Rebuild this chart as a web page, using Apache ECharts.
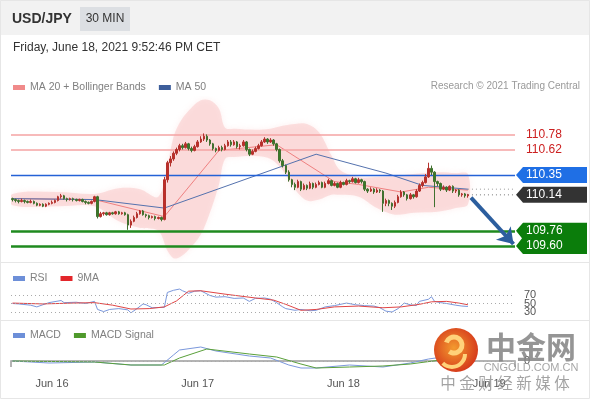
<!DOCTYPE html>
<html><head><meta charset="utf-8">
<script src="https://cdn.jsdelivr.net/npm/echarts/dist/echarts.min.js"></script>
<style>html,body{margin:0;padding:0;background:#fff}#c{width:590px;height:400px}</style>
</head><body><div id="c"></div>
<script>
// ---------- DATA ----------
const xTickIdx = [13, 61, 109, 157];
const xTickLabels = ['Jun 16', 'Jun 17', 'Jun 18', 'Jun 19'];
const slotCount = 166; // 30-min slots on the axis (candles + empty space to the right)

// candles: [open, close, low, high]
const ohlc = [
[110.10,110.09,110.07,110.11],[110.09,110.08,110.06,110.10],[110.08,110.07,110.05,110.09],[110.07,110.08,110.06,110.10],
[110.08,110.07,110.05,110.09],[110.07,110.06,110.05,110.08],[110.06,110.07,110.05,110.09],[110.07,110.05,110.04,110.08],
[110.05,110.03,110.02,110.06],[110.03,110.04,110.02,110.05],[110.04,110.02,110.01,110.05],[110.02,110.04,110.01,110.05],
[110.04,110.05,110.03,110.06],[110.05,110.06,110.04,110.08],[110.06,110.08,110.05,110.09],[110.08,110.12,110.07,110.13],
[110.12,110.13,110.10,110.15],[110.13,110.10,110.09,110.14],[110.10,110.09,110.07,110.11],[110.09,110.10,110.08,110.11],
[110.10,110.09,110.07,110.11],[110.09,110.08,110.07,110.10],[110.08,110.09,110.07,110.10],[110.09,110.07,110.06,110.10],
[110.07,110.06,110.04,110.08],[110.06,110.05,110.04,110.07],[110.05,110.07,110.04,110.08],[110.07,110.12,110.06,110.13],
[110.12,109.91,109.89,110.13],[109.91,109.94,109.90,109.96],[109.94,109.95,109.92,109.96],[109.95,109.93,109.92,109.96],
[109.93,109.95,109.92,109.96],[109.95,109.94,109.93,109.96],[109.94,109.96,109.93,109.97],[109.96,109.94,109.93,109.97],
[109.94,109.95,109.93,109.96],[109.95,109.93,109.92,109.96],[109.93,109.82,109.77,109.94],[109.82,109.86,109.79,109.88],
[109.86,109.90,109.85,109.92],[109.90,109.94,109.89,109.96],[109.94,109.97,109.93,109.98],[109.97,109.93,109.92,109.98],
[109.93,109.92,109.90,109.94],[109.92,109.90,109.88,109.93],[109.90,109.91,109.89,109.92],[109.91,109.89,109.87,109.92],
[109.89,109.90,109.88,109.91],[109.90,109.88,109.86,109.91],[109.88,110.30,109.87,110.33],[110.30,110.48,110.27,110.50],
[110.48,110.52,110.44,110.55],[110.52,110.58,110.50,110.60],[110.58,110.62,110.56,110.64],[110.62,110.66,110.60,110.68],
[110.66,110.64,110.62,110.68],[110.64,110.68,110.63,110.70],[110.68,110.63,110.61,110.69],[110.63,110.61,110.59,110.65],
[110.61,110.65,110.60,110.67],[110.65,110.70,110.64,110.72],[110.70,110.73,110.69,110.76],[110.73,110.76,110.71,110.79],
[110.76,110.72,110.70,110.78],[110.72,110.68,110.66,110.73],[110.68,110.63,110.61,110.69],[110.63,110.61,110.59,110.64],
[110.61,110.64,110.60,110.66],[110.64,110.62,110.60,110.66],[110.62,110.66,110.61,110.68],[110.66,110.70,110.65,110.72],
[110.70,110.67,110.65,110.72],[110.67,110.70,110.66,110.72],[110.70,110.65,110.63,110.71],[110.65,110.66,110.62,110.68],
[110.66,110.70,110.65,110.72],[110.70,110.62,110.60,110.71],[110.62,110.57,110.55,110.63],[110.57,110.60,110.56,110.62],
[110.60,110.63,110.59,110.65],[110.63,110.66,110.62,110.68],[110.66,110.70,110.65,110.72],[110.70,110.73,110.69,110.75],
[110.73,110.70,110.68,110.74],[110.70,110.72,110.69,110.74],[110.72,110.68,110.66,110.73],[110.68,110.62,110.60,110.69],
[110.62,110.50,110.48,110.63],[110.50,110.45,110.43,110.52],[110.45,110.38,110.36,110.46],[110.38,110.30,110.28,110.40],
[110.30,110.25,110.22,110.31],[110.25,110.22,110.19,110.27],[110.22,110.28,110.21,110.30],[110.28,110.20,110.18,110.29],
[110.20,110.24,110.19,110.26],[110.24,110.21,110.19,110.25],[110.21,110.26,110.20,110.28],[110.26,110.22,110.20,110.27],
[110.22,110.25,110.21,110.27],[110.25,110.27,110.24,110.29],[110.27,110.22,110.21,110.28],[110.22,110.26,110.21,110.28],
[110.26,110.29,110.25,110.31],[110.29,110.24,110.23,110.30],[110.24,110.26,110.23,110.28],[110.26,110.22,110.21,110.27],
[110.22,110.27,110.21,110.29],[110.27,110.25,110.24,110.28],[110.25,110.29,110.24,110.31],[110.29,110.28,110.26,110.30],
[110.28,110.31,110.27,110.33],[110.31,110.27,110.26,110.32],[110.27,110.30,110.26,110.32],[110.30,110.28,110.26,110.31],
[110.28,110.20,110.18,110.29],[110.20,110.18,110.16,110.21],[110.18,110.20,110.17,110.22],[110.20,110.17,110.15,110.21],
[110.17,110.19,110.16,110.21],[110.19,110.18,110.16,110.20],[110.18,110.05,109.96,110.19],[110.05,110.08,110.02,110.10],
[110.08,110.05,110.02,110.09],[110.05,110.02,109.98,110.06],[110.02,110.06,110.00,110.08],[110.06,110.12,110.05,110.14],
[110.12,110.17,110.11,110.19],[110.17,110.14,110.12,110.18],[110.14,110.10,110.08,110.15],[110.10,110.14,110.09,110.16],
[110.14,110.12,110.10,110.15],[110.12,110.18,110.11,110.20],[110.18,110.24,110.17,110.26],[110.24,110.27,110.22,110.29],
[110.27,110.33,110.26,110.36],[110.33,110.42,110.32,110.48],[110.42,110.38,110.35,110.45],[110.38,110.28,110.01,110.39],
[110.28,110.26,110.23,110.29],[110.26,110.20,110.18,110.27],[110.20,110.22,110.19,110.24],[110.22,110.19,110.17,110.23],
[110.19,110.23,110.18,110.24],[110.23,110.18,110.16,110.24],[110.18,110.19,110.16,110.20],[110.19,110.14,110.12,110.20],
[110.14,110.15,110.12,110.16],[110.15,110.13,110.11,110.16],[110.13,110.14,110.11,110.15]
];

const ma20Idx = [0, 27, 50, 68, 87, 106, 114, 128, 137, 150];
const ma20Val = [110.10, 110.09, 109.91, 110.61, 110.67, 110.28, 110.25, 110.17, 110.22, 110.19];
const ma50Idx = [0, 27, 50, 100, 123, 135, 150];
const ma50Val = [110.10, 110.09, 110.00, 110.57, 110.37, 110.24, 110.20];

const bandIdx   = [0,15,27,35,42,48,51,53,55,58,62,65,68,70,73,80,85,89,93,97,101,105,108,114,120,126,132,140,146,150];
const bandUpper = [110.15,110.17,110.15,110.21,110.20,110.12,110.45,110.75,110.90,111.03,111.14,111.14,111.05,110.85,110.84,110.83,110.84,110.87,110.89,110.89,110.80,110.56,110.40,110.33,110.33,110.34,110.36,110.38,110.37,110.36];
const bandLower = [110.03,110.02,110.02,109.86,109.79,109.76,109.55,109.47,109.48,109.56,109.72,109.95,110.25,110.52,110.54,110.55,110.52,110.40,110.20,110.08,110.09,110.14,110.14,110.12,110.00,109.93,109.95,109.96,110.00,110.04];

const resistances = [110.78, 110.62];
const pivot = 110.35;
const lastPrice = 110.14;
const ma50Last = 110.20;
const supports = [109.76, 109.60];
const arrowFrom = [151, 110.11];
const arrowTo = [165, 109.62];

const rsiIdx = [0,2,6,8,10,12,16,17,21,24,27,28,30,32,35,38,39,41,43,44,46,50,51,53,55,56,58,60,62,65,67,70,73,76,78,80,83,85,87,89,90,93,95,98,100,103,106,110,113,116,119,121,123,125,127,129,131,133,134,137,138,139,141,143,146,148,150];
const rsiVal = [50,49,46,42,47,52,57,52,53,50,55,36,31,36,38,35,28,38,49,47,40,41,76,81,84,80,74,79,80,69,65,66,62,63,55,62,63,60,52,42,38,34,36,33,34,42,45,51,47,45,44,40,32,30,38,51,47,45,55,60,66,55,52,50,46,44,43];
const rsiMaIdx = [0,10,20,27,33,39,45,50,54,58,62,70,80,86,90,95,100,106,114,122,128,134,138,143,147,150];
const rsiMaVal = [51,49,51,52,46,37,38,42,56,79,80,72,63,58,48,34,36,42,44,40,42,48,54,55,51,47];
const rsiLevels = [70, 50, 30];

const macdIdx = [0,12,27,39,49,50,53,55,62,67,78,85,91,95,100,111,122,131,137,144,150];
const macdVal = [0.000,-0.012,-0.006,-0.024,-0.024,-0.010,0.036,0.066,0.084,0.060,0.030,0.018,-0.024,-0.042,-0.042,-0.024,-0.036,-0.012,0.012,0.030,0.024];
const sigIdx = [0,27,39,50,55,64,78,87,95,100,111,122,131,141,150];
const sigVal = [0.000,-0.006,-0.024,-0.024,0.018,0.072,0.042,0.024,-0.018,-0.042,-0.036,-0.030,-0.018,0.006,0.018];

// ---------- BUILD ----------
const FONT = '"Liberation Sans", Arial, sans-serif';
const categories = [];
for (let i = 0; i < slotCount; i++) {
  const m = 17 * 60 + 30 + i * 30;
  const d = 15 + Math.floor(m / 1440);
  const hh = Math.floor((m % 1440) / 60), mm = m % 60;
  categories.push('Jun ' + d + ' ' + String(hh).padStart(2, '0') + ':' + String(mm).padStart(2, '0'));
}
const zip = (a, b) => a.map((x, k) => [x, b[k]]);

const GL = 11, GR = 75;
const chart = echarts.init(document.getElementById('c'));

const hidX = i => ({type: 'category', gridIndex: i, data: categories, boundaryGap: true, show: false});
const legendText = {color: '#808080', fontSize: 10.5, fontFamily: FONT};

const option = {
  animation: false,
  backgroundColor: '#fff',
  textStyle: {fontFamily: FONT},
  grid: [
    {left: GL, right: GR, top: 96, height: 166},
    {left: GL, right: GR, top: 286.5, height: 34},
    {left: GL, right: GR, top: 341, height: 30}
  ],
  legend: [
    {left: 8, top: 77, icon: 'rect', itemWidth: 12, itemHeight: 5, itemGap: 13, selectedMode: false,
     textStyle: legendText, data: ['MA 20 + Bollinger Bands', 'MA 50']},
    {left: 8, top: 268, icon: 'rect', itemWidth: 12, itemHeight: 5, itemGap: 13, selectedMode: false,
     textStyle: legendText, data: ['RSI', '9MA']},
    {left: 8, top: 325, icon: 'rect', itemWidth: 12, itemHeight: 5, itemGap: 13, selectedMode: false,
     textStyle: legendText, data: ['MACD', 'MACD Signal']}
  ],
  xAxis: [hidX(0), hidX(1), {
    type: 'category', gridIndex: 2, data: categories, boundaryGap: true,
    axisLine: {lineStyle: {color: '#b4b4b4', width: 2}},
    axisTick: {show: true, interval: i => i === 0, length: 6, lineStyle: {color: '#b4b4b4', width: 2}},
    axisLabel: {interval: i => xTickIdx.includes(i), color: '#555', fontSize: 11, margin: 7, fontFamily: FONT,
      formatter: (v, i) => { const k = xTickIdx.indexOf(i); return k >= 0 ? xTickLabels[k] : ''; }}
  }],
  yAxis: [
    {gridIndex: 0, min: 109.4294, max: 111.186, show: false},
    {gridIndex: 1, min: 10, max: 90, show: false},
    {gridIndex: 2, min: -0.06, max: 0.12, show: false}
  ],
  series: [
    {
      type: 'custom', name: 'band', xAxisIndex: 0, yAxisIndex: 0, z: 1, clip: true, silent: true,
      data: bandIdx.map((x, k) => [x, bandUpper[k], bandLower[k]]),
      encode: {x: 0, y: [1, 2]},
      renderItem: (params, api) => {
        if (params.dataIndex !== 0) return null;
        const up = bandIdx.map((x, k) => api.coord([x, bandUpper[k]]));
        const lo = bandIdx.map((x, k) => api.coord([x, bandLower[k]])).reverse();
        return {type: 'polygon', shape: {points: up.concat(lo), smooth: 0.35},
          style: {fill: 'rgba(249,190,190,0.45)', shadowBlur: 6, shadowColor: 'rgba(249,190,190,0.5)'}};
      }
    },
    {
      type: 'line', name: 'levels', xAxisIndex: 0, yAxisIndex: 0, data: [], z: 2, silent: true,
      markLine: {
        silent: true, symbol: 'none', label: {show: false}, animation: false,
        data: [
          ...resistances.map(v => ({yAxis: v, lineStyle: {color: '#f4a3a3', width: 1.5, type: 'solid'}})),
          {yAxis: pivot, lineStyle: {color: '#2462d6', width: 1.4, type: 'solid'}},
          ...supports.map(v => ({yAxis: v, lineStyle: {color: '#1f8a1f', width: 2.5, type: 'solid'}}))
        ]
      }
    },
    {
      type: 'line', name: 'MA 20 + Bollinger Bands', xAxisIndex: 0, yAxisIndex: 0, z: 3,
      data: zip(ma20Idx, ma20Val), symbol: 'none', color: '#f08a8a',
      lineStyle: {color: '#ef8080', width: 1}
    },
    {
      type: 'line', name: 'MA 50', xAxisIndex: 0, yAxisIndex: 0, z: 3,
      data: zip(ma50Idx, ma50Val), symbol: 'none', color: '#3d5e9b',
      lineStyle: {color: '#5572ae', width: 1}
    },
    {
      type: 'line', name: 'ma50ext', xAxisIndex: 0, yAxisIndex: 0, z: 3, symbol: 'none', silent: true,
      data: [[ma50Idx[ma50Idx.length - 1], ma50Last], [slotCount - 1, ma50Last]],
      lineStyle: {color: '#9a9a9a', width: 1, type: [1, 3]}
    },
    {
      type: 'line', name: 'lastext', xAxisIndex: 0, yAxisIndex: 0, z: 3, symbol: 'none', silent: true,
      data: [[ohlc.length - 1, lastPrice], [slotCount - 1, lastPrice]],
      lineStyle: {color: '#777', width: 1, type: [1, 3]},
      markLine: {
        silent: true, symbol: ['none', 'arrow'], symbolSize: 15, label: {show: false}, animation: false,
        lineStyle: {color: '#2c5e9e', width: 4, type: 'solid'},
        data: [[{coord: arrowFrom}, {coord: arrowTo}]]
      }
    },
    {
      type: 'candlestick', name: 'USD/JPY', xAxisIndex: 0, yAxisIndex: 0, z: 5,
      data: ohlc, barWidth: 2,
      itemStyle: {color: '#bf2d28', color0: '#3a7a28', borderColor: '#b3322d', borderColor0: '#41702f', borderWidth: 1}
    },
    {
      type: 'line', name: 'RSI', xAxisIndex: 1, yAxisIndex: 1, data: zip(rsiIdx, rsiVal), symbol: 'none',
      color: '#6d8fd8', lineStyle: {color: '#7b98dc', width: 1}, z: 3,
      markLine: {
        silent: true, symbol: 'none', animation: false,
        lineStyle: {color: '#aaa', width: 1, type: [1, 3]},
        label: {show: true, position: 'end', distance: 9, color: '#555', fontSize: 11, fontFamily: FONT,
          formatter: p => String(p.value)},
        data: rsiLevels.map(v => ({yAxis: v}))
      }
    },
    {
      type: 'line', name: '9MA', xAxisIndex: 1, yAxisIndex: 1, data: zip(rsiMaIdx, rsiMaVal), symbol: 'none',
      color: '#e3262b', lineStyle: {color: '#e04545', width: 1}, z: 4
    },
    {
      type: 'line', name: 'MACD', xAxisIndex: 2, yAxisIndex: 2, data: zip(macdIdx, macdVal), symbol: 'none',
      color: '#6d8fd8', lineStyle: {color: '#7b98dc', width: 1}, z: 3,
      markLine: {
        silent: true, symbol: 'none', animation: false,
        lineStyle: {color: '#aaa', width: 1, type: [1, 3]},
        label: {show: true, position: 'end', distance: 9, color: '#555', fontSize: 11, fontFamily: FONT, formatter: '0'},
        data: [{yAxis: 0}]
      }
    },
    {
      type: 'line', name: 'MACD Signal', xAxisIndex: 2, yAxisIndex: 2, data: zip(sigIdx, sigVal), symbol: 'none',
      color: '#4f9a2c', lineStyle: {color: '#5aa03a', width: 1}, z: 4
    }
  ]
};
chart.setOption(option);

// ---------- overlay graphics (positions from the chart's own scale) ----------
const yOf = v => chart.convertToPixel({yAxisIndex: 0}, v);
const XR = 590 - GR;
const g = [];
g.push({type: 'rect', z: -10, shape: {x: 0, y: 0, width: 590, height: 35}, style: {fill: '#f2f2f2'}, silent: true});
g.push({type: 'rect', z: 100, shape: {x: 0.5, y: 0.5, width: 589, height: 398}, style: {fill: 'none', stroke: '#e6e6e6'}, silent: true});
g.push({type: 'rect', z: -9, shape: {x: 80, y: 7, width: 50, height: 24}, style: {fill: '#dcdfe3'}, silent: true});
g.push({type: 'text', z: 10, style: {text: 'USD/JPY', x: 12, y: 19, fill: '#333', font: 'bold 14px ' + FONT, verticalAlign: 'middle'}});
g.push({type: 'text', z: 10, style: {text: '30 MIN', x: 105, y: 19, fill: '#333', font: '12px ' + FONT, align: 'center', verticalAlign: 'middle'}});
g.push({type: 'text', z: 10, style: {text: 'Friday, June 18, 2021 9:52:46 PM CET', x: 13, y: 48, fill: '#333', font: '12px ' + FONT, verticalAlign: 'middle'}});
g.push({type: 'text', z: 10, style: {text: 'Research \u00a9 2021 Trading Central', x: 580, y: 86, fill: '#999', font: '10px ' + FONT, align: 'right', verticalAlign: 'middle'}});
g.push({type: 'line', z: 10, shape: {x1: 1, y1: 262.5, x2: 589, y2: 262.5}, style: {stroke: '#e6e6e6', lineWidth: 1}, silent: true});
g.push({type: 'line', z: 10, shape: {x1: 1, y1: 320.5, x2: 589, y2: 320.5}, style: {stroke: '#e6e6e6', lineWidth: 1}, silent: true});

resistances.forEach(v => {
  g.push({type: 'text', z: 20, style: {text: v.toFixed(2), x: 526, y: yOf(v), fill: '#cc2020', font: '12px ' + FONT, verticalAlign: 'middle'}});
});
const tag = (v, color) => {
  const y = yOf(v);
  g.push({type: 'polygon', z: 20, shape: {points: [[XR + 1, y], [XR + 8, y - 8], [587, y - 8], [587, y + 8], [XR + 8, y + 8]]}, style: {fill: color}});
  g.push({type: 'text', z: 21, style: {text: v.toFixed(2), x: 526, y: y, fill: '#fff', font: '12px ' + FONT, verticalAlign: 'middle'}});
};
tag(pivot, '#1f6fe5');
tag(lastPrice, '#333333');
{
  const y1 = yOf(supports[0]), y2 = yOf(supports[1]);
  g.push({type: 'polygon', z: 20, shape: {points: [[XR + 1, y1], [XR + 8, y1 - 8], [587, y1 - 8], [587, y2 + 8], [XR + 8, y2 + 8], [XR + 1, y2], [XR + 7, (y1 + y2) / 2]]}, style: {fill: '#0b7d0b'}});
  supports.forEach(v => g.push({type: 'text', z: 21, style: {text: v.toFixed(2), x: 526, y: yOf(v), fill: '#fff', font: '12px ' + FONT, verticalAlign: 'middle'}}));
}

// watermark
g.push({type: 'circle', z: 50, shape: {cx: 456, cy: 350, r: 22},
  style: {fill: new echarts.graphic.RadialGradient(0.45, 0.45, 0.6, [{offset: 0, color: '#f39a2e'}, {offset: 1, color: '#d4341a'}])}});
g.push({type: 'arc', z: 51, shape: {cx: 454, cy: 345, r: 8, startAngle: -Math.PI * 0.9, endAngle: Math.PI * 0.7}, style: {stroke: '#ffd27a', lineWidth: 5, fill: 'none'}});
g.push({type: 'arc', z: 51, shape: {cx: 452, cy: 354, r: 13, startAngle: 0, endAngle: Math.PI * 0.75}, style: {stroke: '#ffd27a', lineWidth: 4, fill: 'none'}});
g.push({type: 'text', z: 50, style: {text: '中金网', x: 531, y: 347, fill: 'rgba(130,130,130,0.85)', font: 'bold 30px "Noto Sans CJK SC"', align: 'center', verticalAlign: 'middle'}});
g.push({type: 'text', z: 50, style: {text: 'CNGOLD.COM.CN', x: 531, y: 368, fill: 'rgba(150,150,150,0.85)', font: '11px ' + FONT, align: 'center', verticalAlign: 'middle'}});
g.push({type: 'text', z: 50, style: {text: '中 金 财 经 新 媒 体', x: 505, y: 383, fill: 'rgba(140,140,140,0.8)', font: '15.5px "Noto Sans CJK SC"', align: 'center', verticalAlign: 'middle'}});

chart.setOption({graphic: g});
</script></body></html>
